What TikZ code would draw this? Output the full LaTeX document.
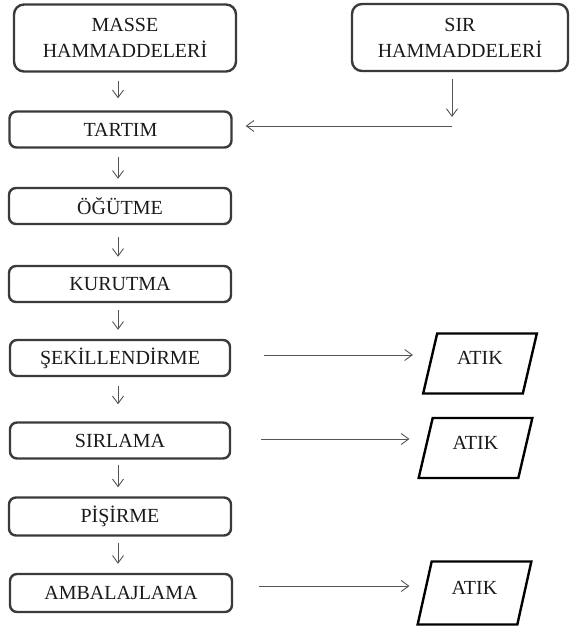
\documentclass[tikz,border=0pt]{standalone}
\usepackage{fontspec}
\setmainfont{Liberation Serif}
\usetikzlibrary{arrows.meta,shapes.geometric}
\definecolor{boxc}{HTML}{3A3A3A}
\definecolor{arrc}{HTML}{555555}
\definecolor{txtc}{HTML}{1A1A1A}
\begin{document}
\begin{tikzpicture}[x=1pt,y=-1pt,
  box/.style={draw=boxc, line width=2.4pt, rounded corners=7pt, minimum width=222pt,
    minimum height=36pt, inner sep=0pt, text=txtc, font=\fontsize{20}{26}\selectfont},
  bigbox/.style={box, minimum height=67pt, align=center, rounded corners=10pt},
  atik/.style={draw=black, line width=2.4pt, trapezium, trapezium left angle=74,
    trapezium right angle=106, trapezium stretches=true, minimum width=114pt,
    minimum height=60pt, inner sep=0pt, text=txtc, font=\fontsize{20}{24}\selectfont,
    text height=14pt, text depth=12pt},
  arr/.style={draw=arrc, line width=0.9pt, -{Straight Barb[length=7.5pt,width=11pt]}}]
\useasboundingbox (0,0) rectangle (570,631);

\node[bigbox] (masse) at (125,38) {MASSE\\HAMMADDELERİ};
\node[bigbox, minimum width=216pt] (sir) at (460,37.5) {SIR\\HAMMADDELERİ};
\node[box] (tartim) at (120.5,129.5) {TARTIM};
\node[box] (ogutme) at (120,206) {ÖĞÜTME};
\node[box] (kurutma) at (120,284) {KURUTMA};
\node[box, minimum width=220pt] (sekil) at (120,358) {ŞEKİLLENDİRME};
\node[box, minimum width=220pt] (sirlama) at (120,440.5) {SIRLAMA};
\node[box, minimum height=38pt] (pisirme) at (120,516.5) {PİŞİRME};
\node[box, minimum height=38pt] (ambalaj) at (121,593) {AMBALAJLAMA};

\node[atik] (atik1) at (480,363.5) {ATIK};
\node[atik] (atik2) at (475.5,448) {ATIK};
\node[atik, minimum height=63pt] (atik3) at (474.5,593) {ATIK};

\coordinate (col) at (118,0);
\coordinate (j) at (452,126);

\draw[arr, shorten <=8pt, shorten >=12pt] (masse.south -| col) -- (tartim.north -| col);
\draw[arr, shorten <=8pt, shorten >=8pt] (tartim.south -| col) -- (ogutme.north -| col);
\draw[arr, shorten <=12pt, shorten >=8pt] (ogutme.south -| col) -- (kurutma.north -| col);
\draw[arr, shorten <=7pt, shorten >=9pt] (kurutma.south -| col) -- (sekil.north -| col);
\draw[arr, shorten <=9pt, shorten >=17pt] (sekil.south -| col) -- (sirlama.north -| col);
\draw[arr, shorten <=5pt, shorten >=9pt] (sirlama.south -| col) -- (pisirme.north -| col);
\draw[arr, shorten <=6pt, shorten >=9pt] (pisirme.south -| col) -- (ambalaj.north -| col);

\draw[arr, shorten <=7pt, shorten >=9pt] (sir.south -| j) -- (j);
\draw[arr, shorten >=13pt] (j) -- (j -| tartim.east);

\draw[arr, shorten <=33pt, shorten >=16pt] (sekil.east |- 0,355) -- (atik1.west |- 0,355);
\draw[arr, shorten <=30pt, shorten >=15pt] (sirlama.east |- 0,439) -- (atik2.west |- 0,439);
\draw[arr, shorten <=26pt, shorten >=14pt] (ambalaj.east |- 0,586) -- (atik3.west |- 0,586);
\end{tikzpicture}
\end{document}
